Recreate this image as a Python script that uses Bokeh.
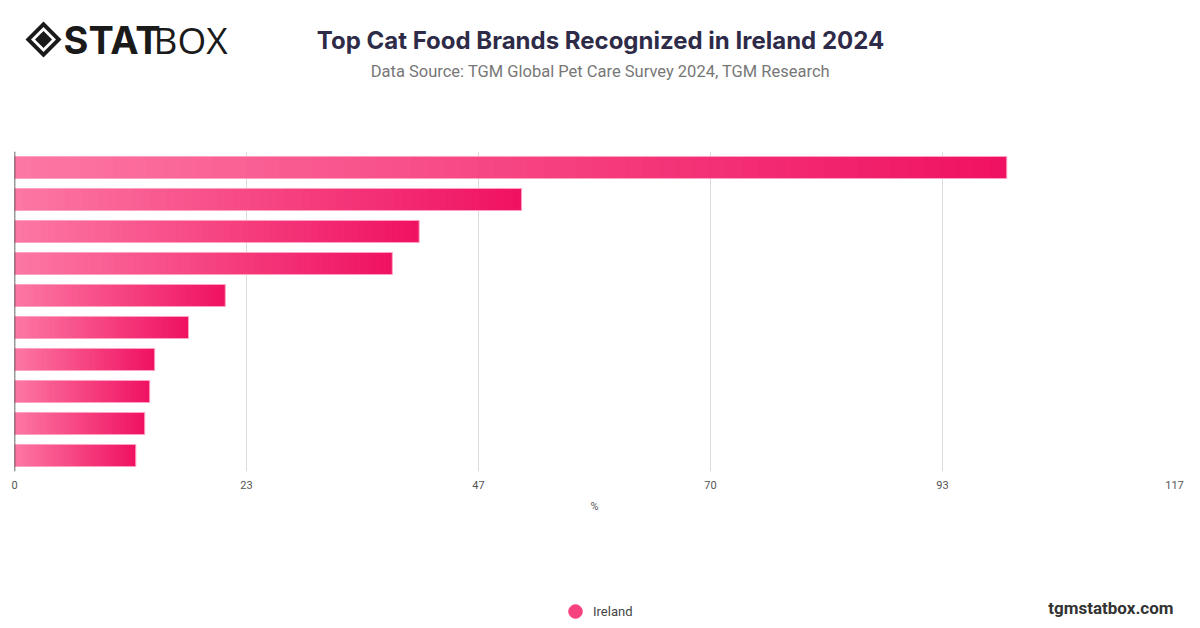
import numpy as np
from bokeh.plotting import figure
from bokeh.layouts import column
from bokeh.models import (ColumnDataSource, Range1d, FixedTicker, NumeralTickFormatter,
                          Span, Legend, LegendItem)
from bokeh.core.properties import value
from bokeh.embed import file_html
from bokeh.resources import INLINE

# ---- data ----
ranks = [1, 2, 3, 4, 5, 6, 7, 8, 9, 10]
values = [99.8, 51.0, 40.7, 38.0, 21.2, 17.5, 14.1, 13.6, 13.1, 12.2]
series_name = "Ireland"
x_max = 116.67
n_intervals = 5
title_text = "Top Cat Food Brands Recognized in Ireland 2024"
subtitle_text = "Data Source: TGM Global Pet Care Survey 2024, TGM Research"
axis_title = "%"
footer_text = "tgmstatbox.com"

# ---- style / layout ----
W = 1184
H_HEAD, H_CHART, H_FOOT = 120, 400, 108
FRAME_L, FRAME_R = 14, 1174          # frame edges in page pixels (shared by the column)
C_LIGHT = np.array([253, 120, 164])
C_DARK = np.array([240, 18, 98])
N_SEG = 60
BAR_H = 0.69


def blank(h):
    f = figure(width=W, height=h, output_backend="svg", toolbar_location=None,
               x_range=Range1d(FRAME_L, FRAME_R), y_range=Range1d(h, 0),
               x_axis_location=None, y_axis_location=None,
               min_border_left=FRAME_L, min_border_right=W - FRAME_R,
               min_border_top=0, min_border_bottom=0)
    f.grid.visible = False
    f.outline_line_color = None
    f.background_fill_color = "white"
    f.border_fill_color = "white"
    return f


# ---- header ----
head = blank(H_HEAD)
cx, cy = 43, 39
dxs, dys, dcs = [], [], []
for h, col in [(18, "#1a1a1a"), (12.5, "white"), (8.5, "#1a1a1a")]:
    dxs.append([cx - h, cx, cx + h, cx])
    dys.append([cy, cy - h, cy, cy + h])
    dcs.append(col)
head.patches(xs=dxs, ys=dys, fill_color=dcs, line_color=None)
head.text(x=[63], y=[39], text=["STAT"], text_font=value("Inter"), text_font_style="bold",
          text_font_size="38px", text_color="#1a1a1a", text_align="left",
          text_baseline="middle")
head.text(x=[153], y=[39], text=["BOX"], text_font=value("Open Sans"),
          text_font_size="37px", text_color="#1a1a1a", text_align="left",
          text_baseline="middle")
head.text(x=[600], y=[40], text=[title_text], text_font=value("Inter"),
          text_font_style="bold", text_font_size="24px", text_color="#2e2b48",
          text_align="center", text_baseline="middle")
head.text(x=[600], y=[71], text=[subtitle_text], text_font=value("Roboto"),
          text_font_size="16.5px", text_color="#777777", text_align="center",
          text_baseline="middle")

# ---- chart ----
p = figure(width=W, height=H_CHART, output_backend="svg", toolbar_location=None,
           x_range=Range1d(0, x_max), y_range=Range1d(len(ranks) + 0.5, 0.5),
           min_border_left=FRAME_L, min_border_right=W - FRAME_R,
           min_border_top=151 - H_HEAD, min_border_bottom=H_HEAD + H_CHART - 471)
p.outline_line_color = None
p.background_fill_color = "white"
p.border_fill_color = "white"

ys, lefts, rights, cols = [], [], [], []
for r, v in zip(ranks, values):
    for k in range(N_SEG):
        t = (k + 0.5) / N_SEG
        c = (C_LIGHT + (C_DARK - C_LIGHT) * t).astype(int)
        ys.append(r)
        lefts.append(v * k / N_SEG)
        rights.append(min(v, v * (k + 1.4) / N_SEG))
        cols.append("#%02x%02x%02x" % tuple(c))
seg = ColumnDataSource(dict(y=ys, left=lefts, right=rights, color=cols))
p.hbar(y="y", left="left", right="right", height=BAR_H, source=seg,
       fill_color="color", line_color=None)

src = ColumnDataSource(dict(y=ranks, v=values))
p.hbar(y="y", left=0, right="v", height=BAR_H, source=src,
       fill_alpha=0, line_color="#ffa3c4", line_width=1)

p.yaxis.visible = False
p.ygrid.grid_line_color = None
p.xgrid.grid_line_color = "#dcdcdc"
p.xaxis.ticker = FixedTicker(ticks=[x_max * i / n_intervals for i in range(n_intervals + 1)])
p.xaxis.formatter = NumeralTickFormatter(format="0")
p.xaxis.axis_line_color = None
p.xaxis.major_tick_line_color = None
p.xaxis.minor_tick_line_color = None
p.xaxis.major_tick_out = 0
p.xaxis.major_tick_in = 0
p.xaxis.major_label_standoff = 9
p.xaxis.major_label_text_color = "#555555"
p.xaxis.major_label_text_font = "Roboto"
p.xaxis.major_label_text_font_size = "11px"
p.xaxis.axis_label = axis_title
p.xaxis.axis_label_text_font = "Roboto"
p.xaxis.axis_label_text_font_style = "normal"
p.xaxis.axis_label_text_font_size = "11px"
p.xaxis.axis_label_text_color = "#555555"
p.xaxis.axis_label_standoff = 8

p.add_layout(Span(location=0, dimension="height", line_color="#333333", line_width=1.5))

# ---- footer ----
foot = blank(H_FOOT)
y0 = H_HEAD + H_CHART
foot.text(x=[1173], y=[607 - y0], text=[footer_text], text_font=value("Roboto"),
          text_font_style="bold", text_font_size="17px", text_color="#333333",
          text_align="right", text_baseline="middle")
# legend needs a renderer with one (off-screen) point so its glyph is drawn
dummy = foot.scatter(x=[-1000], y=[-1000], marker="circle", fill_color="#f7407e",
                     line_color="#f7407e")
gl = 34
leg = Legend(items=[LegendItem(label=series_name, renderers=[dummy])],
             location=(575 - gl / 2 - FRAME_L, (H_FOOT - (611 - y0)) - gl / 2),
             padding=0, margin=0, spacing=0,
             glyph_width=gl, glyph_height=gl, label_standoff=1,
             label_text_font="Roboto", label_text_font_size="13px",
             label_text_color="#444444", background_fill_alpha=0,
             border_line_color=None)
foot.add_layout(leg, "center")

layout = column(head, p, foot, spacing=0)
open("out.html", "w").write(file_html(layout, INLINE))
